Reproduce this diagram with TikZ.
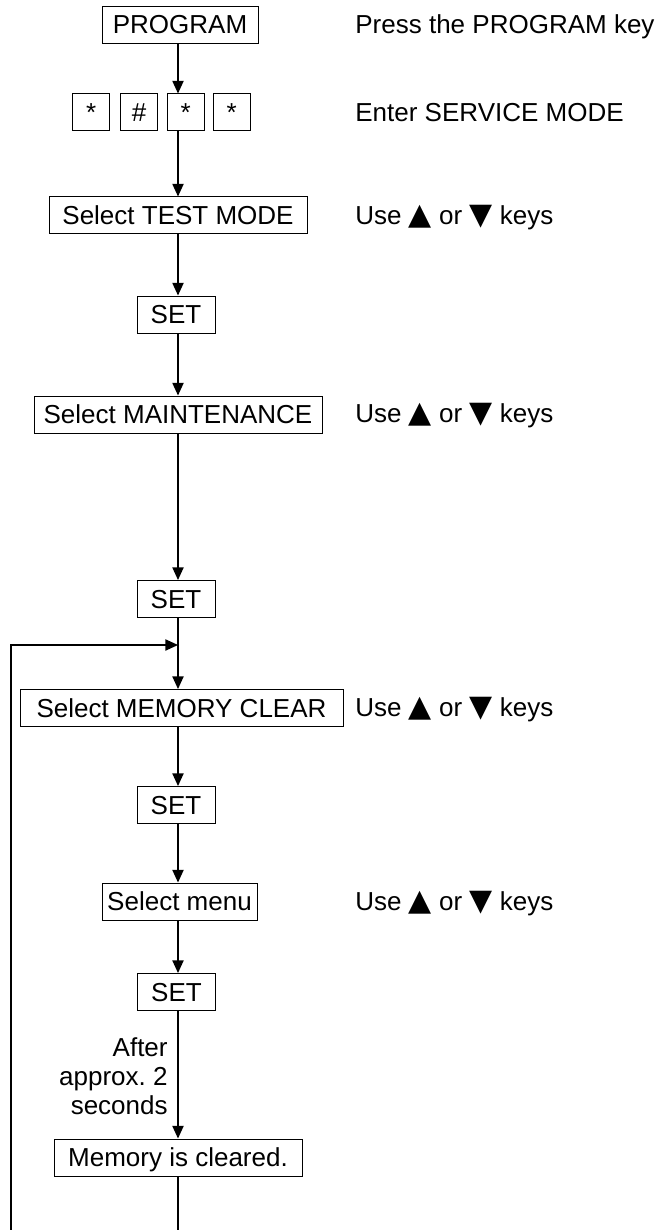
\documentclass[tikz,border=0pt]{standalone}
\usepackage{fontspec}
\setmainfont{Liberation Sans}
\newfontfamily\symfont{DejaVu Sans}
\usetikzlibrary{arrows.meta}
\newcommand{\up}{{\symfont\fontsize{15}{15}\selectfont ▲}}
\newcommand{\dn}{{\symfont\fontsize{15}{15}\selectfont ▼}}
\begin{document}
\begin{tikzpicture}[x=0.5pt,y=-0.5pt,
  box/.style={draw,line width=0.5pt,minimum height=18.5pt,inner sep=0pt,
    text height=9pt,text depth=0pt,font=\fontsize{13}{15}\selectfont},
  key/.style={box,minimum width=18.5pt},
  note/.style={anchor=west,inner sep=0pt,text height=9pt,text depth=0pt,
    font=\fontsize{13}{15}\selectfont},
  flow/.style={line width=0.65pt,-{Triangle[length=6.3pt,width=5.6pt]}},
  plain/.style={line width=0.65pt}]
\useasboundingbox (0,0) rectangle (662,1230);
\coordinate (ax) at (178,0);
% boxes
\node[box,minimum width=78pt] (prog) at (180,25) {PROGRAM};
\node[key] (k1) at (91.3,112.5) {*};
\node[key] (k2) at (139,112.5) {\#};
\node[key] (k3) at (185.7,112.5) {*};
\node[key] (k4) at (231.7,112.5) {*};
\node[box,minimum width=129pt] (test) at (178,215.5) {Select TEST MODE};
\node[box,minimum width=39pt] (set1) at (176,314.5) {SET};
\node[box,minimum width=144pt] (maint) at (178,414.5) {Select MAINTENANCE};
\node[box,minimum width=39pt] (set2) at (176,599) {SET};
\node[box,minimum width=161.5pt] (memc) at (181.5,708) {Select MEMORY CLEAR};
\node[box,minimum width=39pt] (set3) at (176,805) {SET};
\node[box,minimum width=77.5pt] (menu) at (179.5,901.5) {Select menu};
\node[box,minimum width=39pt] (set4) at (176.5,992) {SET};
\node[box,minimum width=124pt] (mem) at (178,1157.5) {Memory is cleared.};
% notes
\node[note] (n1) at (355,25) {Press the PROGRAM key};
\node[note] (n2) at (355,112.5) {Enter SERVICE MODE};
\node[note] (n3) at (355,215.5) {Use \up{} or \dn{} keys};
\node[note] (n4) at (355,413) {Use \up{} or \dn{} keys};
\node[note] (n5) at (355,707) {Use \up{} or \dn{} keys};
\node[note] (n6) at (355,901.5) {Use \up{} or \dn{} keys};
\node[anchor=east,inner sep=0pt,align=right,font=\fontsize{13}{14.5}\selectfont] (lab) at (168,1076) {After\\approx.\ 2\\seconds};
% connectors
\coordinate (loopin) at (178,645);
\coordinate (loopl) at (11,645);
\coordinate (bl) at (11,1230);
\coordinate (br) at (178,1230);
\draw[flow] (prog.south -| ax) -- (k3.north -| ax);
\draw[flow] (k3.south -| ax) -- (test.north -| ax);
\draw[flow] (test.south -| ax) -- (set1.north -| ax);
\draw[flow] (set1.south -| ax) -- (maint.north -| ax);
\draw[flow] (maint.south -| ax) -- (set2.north -| ax);
\draw[flow] (set2.south -| ax) -- (memc.north -| ax);
\draw[flow] (memc.south -| ax) -- (set3.north -| ax);
\draw[flow] (set3.south -| ax) -- (menu.north -| ax);
\draw[flow] (menu.south -| ax) -- (set4.north -| ax);
\draw[flow] (set4.south -| ax) -- (mem.north -| ax);
\draw[plain] (mem.south -| ax) -- (br);
\draw[flow] (bl) -- (loopl) -- (loopin);
\end{tikzpicture}
\end{document}
